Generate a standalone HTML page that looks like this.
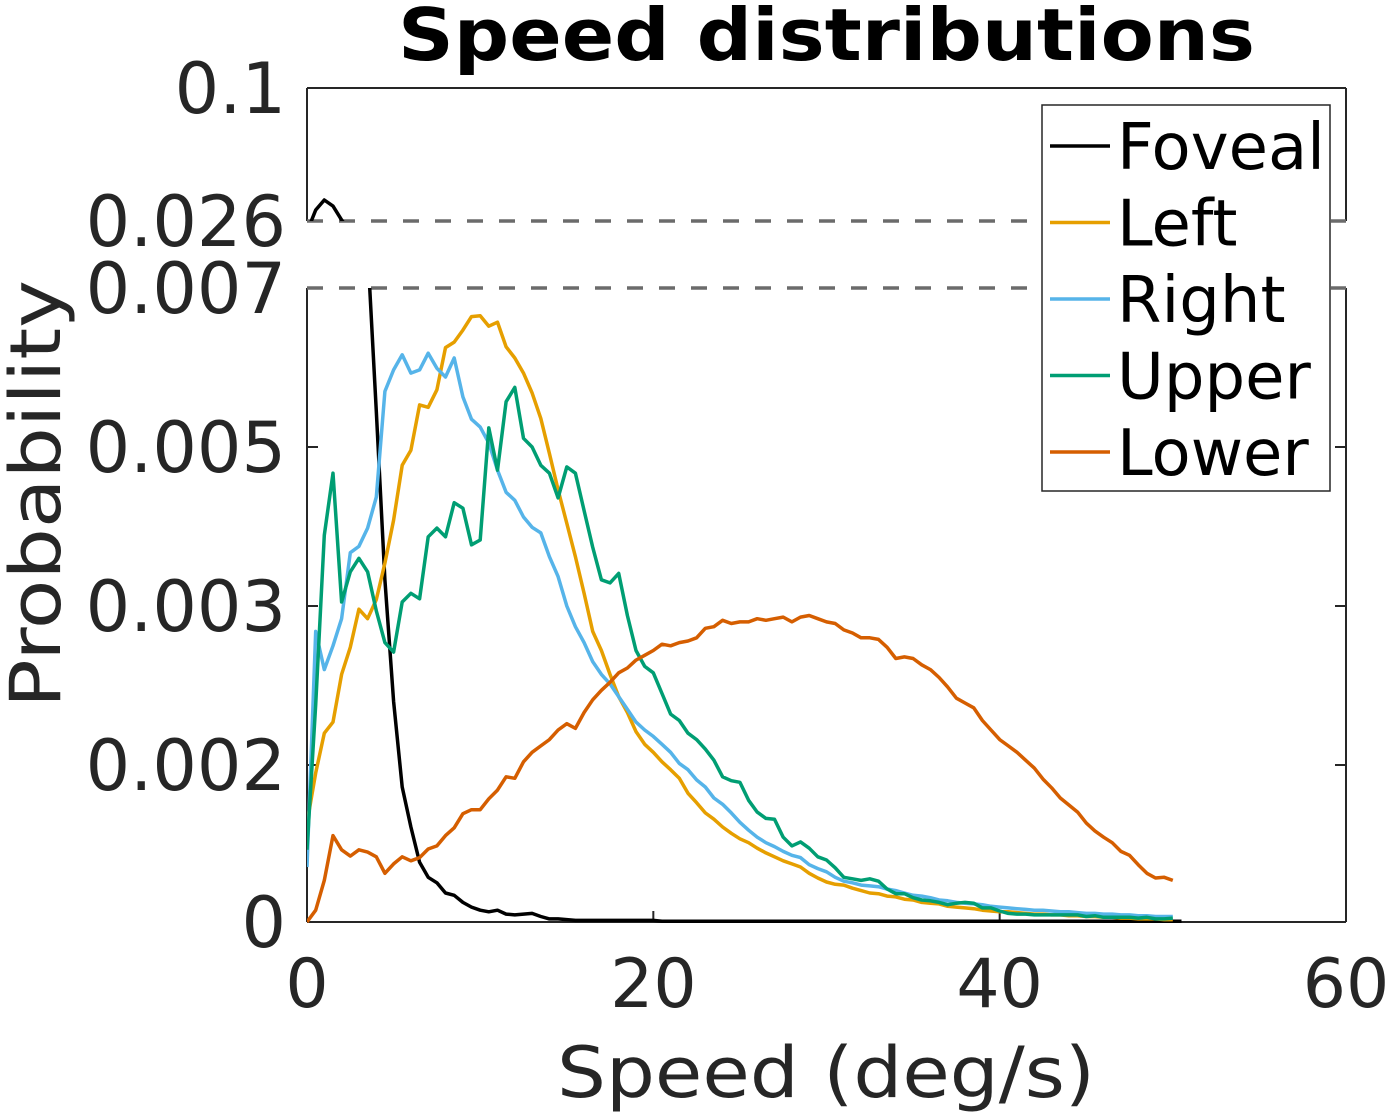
<!DOCTYPE html>
<html><head><meta charset="utf-8"><style>
html,body{margin:0;padding:0;background:#fff;}
svg{display:block;font-family:"DejaVu Sans","Liberation Sans",sans-serif;}
</style></head><body>
<svg id="chart" width="1388" height="1117" viewBox="0 0 1388 1117">
<defs>
<clipPath id="clipLow"><rect x="307" y="288" width="1039" height="636"/></clipPath>
<clipPath id="clipUp"><rect x="307" y="88" width="1039" height="133"/></clipPath>
</defs>
<text x="398" y="60" font-size="72" font-weight="bold" textLength="857" lengthAdjust="spacingAndGlyphs" fill="#000">Speed distributions</text>
<g id="axes"></g>
<g id="series"></g>
<g id="legend"></g>
<text x="557" y="1097" font-size="70" fill="#262626" textLength="538" lengthAdjust="spacingAndGlyphs">Speed (deg/s)</text>
<text transform="translate(60,708) rotate(-90)" font-size="70" fill="#262626" textLength="428" lengthAdjust="spacingAndGlyphs">Probability</text>
</svg>
<script>
const seriesNames = ["Foveal","Left","Right","Upper","Lower"];
const xTickValues = [0,20,40,60];
const yTickValues = [0,0.002,0.003,0.005,0.007,0.026,0.1];
const yTickLabels = ["0","0.002","0.003","0.005","0.007","0.026","0.1"];
const speedStep = 0.5;
const foveal = [0.02,0.0321,0.0377,0.0343,0.0266,0.02,0.013,0.0075,0.00545,0.00333,0.0024,0.00172,0.00121,0.00076,0.00057,0.0005,0.00037,0.00034,0.00025,0.00019,0.00015,0.00013,0.00015,0.0001,0.00009,0.0001,0.00011,0.00007,0.00004,0.00004,0.00003,0.00002,0.00002,0.00002,0.00002,0.00002,0.00002,0.00002,0.00002,0.00002,0.00002,0.00001,0.00001,0.00001,0.00001,0.00001,0.00001,0.00001,0.00001,0.00001,0.00001,0.00001,0.00001,0.00001,0.00001,0.00001,0.00001,0.00001,0.00001,0.00001,0.00001,0.00001,0.00001,0.00001,0.00001,0.00001,0.00001,0.00001,0.00001,0.00001,0.00001,0.00001,0.00001,0.00001,0.00001,0.00001,0.00001,0.00001,0.00001,0.00001,0.00001,0.00001,0.00001,0.00001,0.00001,0.00001,0.00001,0.00001,0.00001,0.00001,0.00001,0.00001,0.00001,0.00001,0.00001,0.00001,0.00001,0.00001,0.00001,0.00001,0.00001,0.00001];
const left = [0.00126,0.0019,0.0022,0.00227,0.00257,0.00274,0.00298,0.00292,0.00308,0.00354,0.00408,0.00477,0.00496,0.00553,0.0055,0.00572,0.00625,0.00632,0.00647,0.00664,0.00665,0.00652,0.00657,0.00626,0.00612,0.00593,0.00568,0.00536,0.00492,0.00446,0.00404,0.00362,0.00316,0.00284,0.00272,0.00257,0.00243,0.00233,0.00221,0.00213,0.00208,0.00202,0.00194,0.00183,0.00164,0.00152,0.00139,0.00131,0.00121,0.00113,0.00106,0.00101,0.00094,0.00088,0.00083,0.00078,0.00074,0.0007,0.00062,0.00056,0.00051,0.00048,0.00047,0.00043,0.0004,0.00037,0.00036,0.00033,0.00032,0.00029,0.00028,0.00025,0.00024,0.00023,0.0002,0.00019,0.00018,0.00017,0.00015,0.00014,0.00013,0.00013,0.00012,0.00011,0.0001,0.0001,0.00009,0.00009,0.00008,0.00008,0.00007,0.00007,0.00006,0.00006,0.00005,0.00005,0.00004,0.00004,0.00004,0.00003,0.00003];
const right = [0.0007,0.00284,0.0026,0.00275,0.00292,0.00367,0.00375,0.00398,0.00437,0.0057,0.00597,0.00616,0.00593,0.00597,0.00618,0.00599,0.00588,0.00612,0.00563,0.00535,0.00525,0.00505,0.00471,0.00443,0.00433,0.00412,0.00399,0.00392,0.00362,0.00337,0.003,0.00287,0.00277,0.00265,0.00257,0.00251,0.00243,0.00235,0.00227,0.00222,0.00218,0.00213,0.00208,0.00201,0.00194,0.00181,0.00172,0.00158,0.0015,0.00139,0.00127,0.00117,0.00108,0.00101,0.00096,0.0009,0.00085,0.00082,0.00073,0.00068,0.00064,0.00057,0.00052,0.0005,0.00047,0.00046,0.00045,0.00042,0.0004,0.00037,0.00034,0.00033,0.00031,0.00028,0.00027,0.00025,0.00024,0.00023,0.00022,0.0002,0.00019,0.00018,0.00017,0.00016,0.00015,0.00015,0.00014,0.00013,0.00013,0.00012,0.00011,0.00011,0.0001,0.0001,0.00009,0.00009,0.00008,0.00008,0.00007,0.00007,0.00007];
const upper = [0.00092,0.00238,0.00389,0.00467,0.00305,0.00343,0.0036,0.00343,0.00297,0.00277,0.00271,0.00305,0.00316,0.00309,0.00387,0.00398,0.00387,0.0043,0.00423,0.00377,0.00383,0.00524,0.00471,0.00557,0.00575,0.00511,0.005,0.00477,0.00467,0.00436,0.00475,0.00467,0.0042,0.00374,0.00333,0.00329,0.00341,0.00294,0.00272,0.00262,0.00258,0.00245,0.00232,0.00228,0.0022,0.00216,0.0021,0.00203,0.00185,0.0018,0.00178,0.00155,0.0014,0.00132,0.00131,0.00108,0.00097,0.00102,0.00094,0.00083,0.00079,0.00069,0.00057,0.00055,0.00053,0.00055,0.00052,0.00042,0.00036,0.00036,0.00031,0.00028,0.00027,0.00025,0.00022,0.00024,0.00025,0.00024,0.00018,0.00018,0.00014,0.00011,0.0001,0.0001,0.00009,0.00009,0.00009,0.00009,0.00009,0.00009,0.00007,0.00008,0.00006,0.00006,0.00006,0.00006,0.00005,0.00006,0.00004,0.00004,0.00005];
const lower = [0,0.00015,0.00053,0.0011,0.00092,0.00084,0.00092,0.00089,0.00083,0.00062,0.00074,0.00083,0.00078,0.00082,0.00093,0.00097,0.0011,0.0012,0.00138,0.00143,0.00143,0.00157,0.00168,0.00185,0.00183,0.00202,0.00208,0.00212,0.00216,0.00222,0.00226,0.00223,0.00233,0.00241,0.00247,0.00252,0.00258,0.00261,0.00266,0.00269,0.00272,0.00276,0.00275,0.00277,0.00278,0.0028,0.00286,0.00287,0.00291,0.00289,0.0029,0.0029,0.00292,0.00291,0.00292,0.00293,0.0029,0.00293,0.00294,0.00292,0.0029,0.00289,0.00285,0.00283,0.0028,0.0028,0.00279,0.00274,0.00267,0.00268,0.00267,0.00263,0.0026,0.00255,0.00249,0.00242,0.00239,0.00236,0.00228,0.00222,0.00216,0.00212,0.00208,0.00203,0.00196,0.00182,0.00171,0.00158,0.00149,0.0014,0.00126,0.00116,0.00108,0.00101,0.0009,0.00085,0.00073,0.00062,0.00056,0.00057,0.00053];
const seriesColors = ["#000000","#E69F00","#56B4E9","#009E73","#D55E00"];

const NS = "http://www.w3.org/2000/svg";
const X0 = 307, X1 = 1346, XMAX = 60;
function xScale(v){ return X0 + v * (X1 - X0) / XMAX; }
const lowKnotV = [0,0.002,0.003,0.005,0.007];
const lowKnotP = [922,765,606,447,288];
function yLow(v){
  for (let i = 0; i < lowKnotV.length - 1; i++) {
    if (v <= lowKnotV[i+1] || i === lowKnotV.length - 2) {
      const t = (v - lowKnotV[i]) / (lowKnotV[i+1] - lowKnotV[i]);
      return lowKnotP[i] + t * (lowKnotP[i+1] - lowKnotP[i]);
    }
  }
}
function yUp(v){ return 221 - (v - 0.026) / (0.1 - 0.026) * 133; }
function yAny(v){ return v >= 0.026 ? yUp(v) : yLow(v); }
function mk(tag, attrs, parent){
  const el = document.createElementNS(NS, tag);
  for (const k in attrs) el.setAttribute(k, attrs[k]);
  parent.appendChild(el);
  return el;
}
const axes = document.getElementById('axes');
let el;
el = mk('path', {d:`M${X0},88 H${X1} M${X0},922 H${X1} M${X0},88 V221 M${X0},288 V922 M${X1},88 V221 M${X1},288 V922`, stroke:'#262626','stroke-width':2, fill:'none'}, axes);


[0.026, 0.007].forEach(v => {
  const d = mk('line', {x1:X0, x2:X1, y1:yAny(v), y2:yAny(v), stroke:'#6b6b6b','stroke-width':3.5,'stroke-dasharray':'16 16'}, axes);
  
  
});
yTickValues.forEach((v, i) => {
  const y = yAny(v);
  if (v > 0 && v < 0.007) {
    const t1 = mk('line', {x1:X0, x2:X0+11, y1:y, y2:y, stroke:'#262626','stroke-width':2}, axes);
    
    
    const t2 = mk('line', {x1:X1-11, x2:X1, y1:y, y2:y, stroke:'#262626','stroke-width':2}, axes);
    
    
  }
  const tx = mk('text', {x:286, y:y+25, 'font-size':70, fill:'#262626','text-anchor':'end'}, axes);
  tx.textContent = yTickLabels[i];
  
  
});
xTickValues.forEach(v => {
  const x = xScale(v);
  const t = mk('line', {x1:x, x2:x, y1:922, y2:911, stroke:'#262626','stroke-width':2}, axes);
  
  
  const tx = mk('text', {x:x, y:1007, 'font-size':68, fill:'#262626','text-anchor':'middle'}, axes);
  tx.textContent = String(v);
  
  
});
const allSeries = [foveal, left, right, upper, lower];
const sg = document.getElementById('series');
allSeries.forEach((vals, si) => {
  const ptsLow = vals.map((v, i) => `${xScale(i*speedStep).toFixed(1)},${yLow(v).toFixed(1)}`).join(' ');
  const pl = mk('polyline', {points:ptsLow, fill:'none', stroke:seriesColors[si], 'stroke-width':3.5, 'stroke-linejoin':'round', 'clip-path':'url(#clipLow)'}, sg);
  
  
  if (Math.max(...vals) > 0.026) {
    const ptsUp = vals.map((v, i) => `${xScale(i*speedStep).toFixed(1)},${yUp(v).toFixed(1)}`).join(' ');
    const pu = mk('polyline', {points:ptsUp, fill:'none', stroke:seriesColors[si], 'stroke-width':3.5, 'stroke-linejoin':'round', 'clip-path':'url(#clipUp)'}, sg);
    
    
  }
});
const lg = document.getElementById('legend');
const box = mk('rect', {x:1042, y:105, width:288, height:386, fill:'#fff', stroke:'#262626','stroke-width':1.5}, lg);


seriesNames.forEach((n, i) => {
  const y = 146 + i * 76.5;
  const ln = mk('line', {x1:1050, x2:1110, y1:y, y2:y, stroke:seriesColors[i], 'stroke-width':3.5}, lg);
  
  
  const t = mk('text', {x:1117, y:y+23, 'font-size':64, fill:'#000'}, lg);
  t.textContent = n;
  
  
});
</script>
</body></html>
